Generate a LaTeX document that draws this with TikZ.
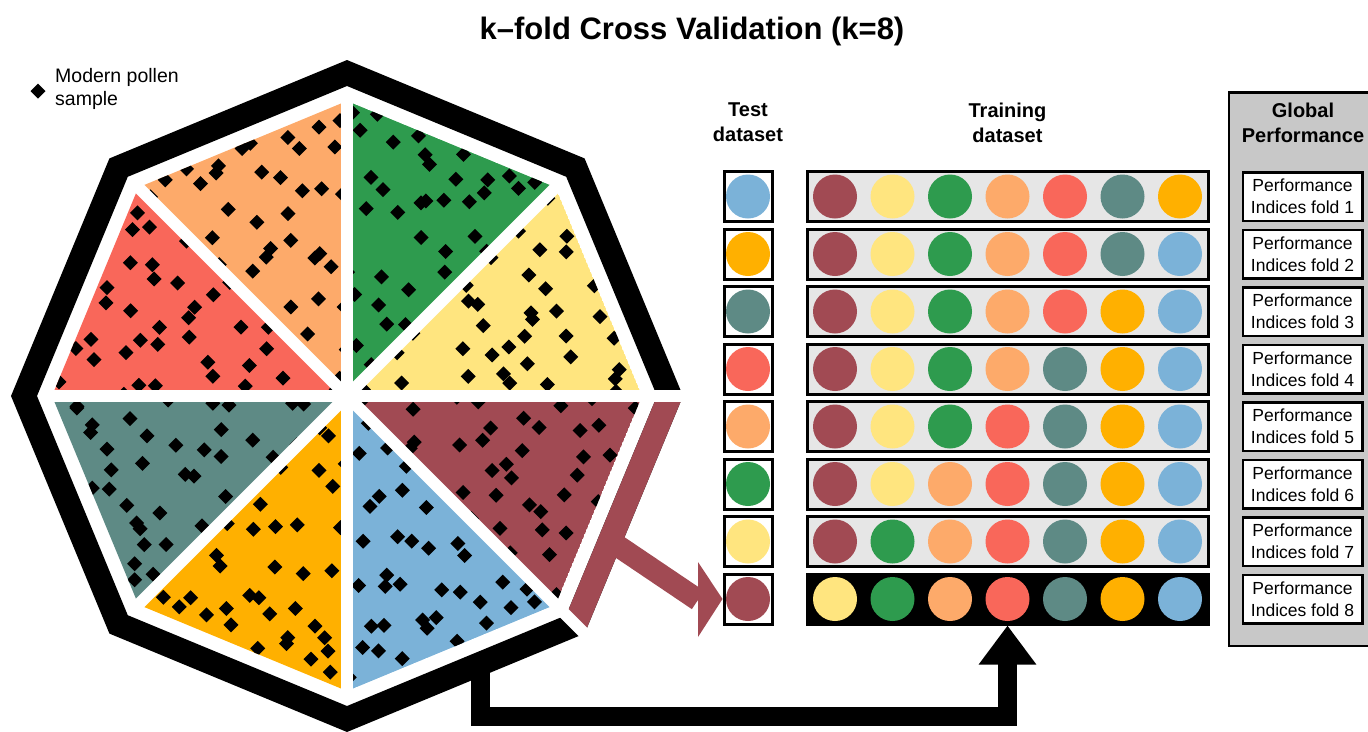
\documentclass[tikz,border=0pt]{standalone}
\usepackage{fontspec}
\setmainfont{Liberation Sans}
\usepackage{tikz}
\usetikzlibrary{arrows.meta}
\usetikzlibrary{calc}
\usetikzlibrary{positioning}
\definecolor{fold1}{HTML}{A14A53} % maroon
\definecolor{fold2}{HTML}{FFE57F} % yellow
\definecolor{fold3}{HTML}{2E9B4E} % green
\definecolor{fold4}{HTML}{FDAA6A} % light orange
\definecolor{fold5}{HTML}{F9675A} % red
\definecolor{fold6}{HTML}{5E8A85} % teal
\definecolor{fold7}{HTML}{FFB000} % amber
\definecolor{fold8}{HTML}{7BB2D8} % blue
\definecolor{trainfill}{HTML}{E6E6E6}
\definecolor{globalfill}{HTML}{C8C8C8}
\tikzset{
    testbox/.style={draw=black, line width=3pt, fill=white, inner sep=0pt,
        minimum width=48pt, minimum height=50pt},
    trainbox/.style={draw=black, line width=3pt, inner sep=0pt,
        minimum width=401pt, minimum height=50pt},
    perfbox/.style={draw=black, line width=2.5pt, fill=white, inner sep=0pt,
        minimum width=119.5pt, minimum height=48.5pt, align=center,
        font=\fontsize{17.5}{22}\selectfont},
    globalbox/.style={draw=black, line width=2.5pt, fill=globalfill, inner sep=0pt,
        minimum width=149.5pt, minimum height=553.5pt},
    foldball/.style={circle, minimum size=44pt, inner sep=0pt},
    header/.style={align=center, inner sep=0pt, anchor=north,
        font=\fontsize{20}{25}\selectfont\bfseries},
    separator/.style={white, line width=12pt},
    frameline/.style={line width=24pt},
    pollen/.style={fill=black},
    bigarrow/.style={line width=19pt, -{Triangle[length=39pt,width=55pt]}},
}

\begin{document}
\begin{tikzpicture}[x=1pt, y=-1pt]
	\useasboundingbox (0,0) rectangle (1368,731);
	\pgfmathsetseed{2718}
	%
	\node[font=\fontsize{31}{37}\selectfont\bfseries, anchor=base, inner sep=0pt]
		(title) at (692,39) {k–fold Cross Validation (k=8)};
	%
	\fill[pollen] (38,91) +(0,-7.5) -- +(7.5,0) -- +(0,7.5) -- +(-7.5,0) -- cycle;
	\node[anchor=north west, align=left, inner sep=0pt, font=\fontsize{19.5}{23}\selectfont]
		(legend) at (55,68) {Modern pollen\\sample};
	%
	\node[globalbox] (global) at (1303.5,369) {};
	\node[header] (testhead) at (748,103) {Test\\dataset};
	\node[header] (trainhead) at (1007.5,103) {Training\\dataset};
	\node[header] (globalhead) at (1303,103) {Global\\Performance};
	%
	\foreach \r in {1,...,8} {
		\pgfmathsetmacro\yy{196.5+57.5*(\r-1)}
		\pgfmathtruncatemacro\testk{9-\r}
		\ifnum\r=8 \def\tfill{black}\else\def\tfill{trainfill}\fi
		\node[testbox] (test\r) at (748,\yy) {};
		\node[foldball, fill=fold\testk] (testball\r) at (test\r) {};
		\node[trainbox, fill=\tfill] (train\r) at (1007.5,\yy) {};
		\foreach \j in {1,...,7} {
			\pgfmathtruncatemacro\trk{\j<\testk ? \j : \j+1}
			\node[foldball, fill=fold\trk] (ball\r-\j) at (835+57.5*\j-57.5,\yy) {};
		}
		\node[perfbox] (perf\r) at (1302.5,\yy) {Performance\\Indices fold \r};
	}
	%
	\coordinate (pieexit) at (480,664);
	\coordinate (bend) at (480,716);
	\draw[bigarrow] (pieexit) -- (bend) -| (train8.south);
	%
	\begin{scope}[shift={(347,396)}, yscale=-1]
		\foreach \ang/\col in {90/fold4, 135/fold5, 180/fold6, 225/fold7,
				270/fold8, 315/fold1, 0/fold2, 45/fold3} {
			\begin{scope}
				\clip (0,0) -- (\ang:295) -- (\ang+45:295) -- cycle;
				\fill[\col] (0,0) -- (\ang:295) -- (\ang+45:295) -- cycle;
				% one sample in each cell of a jittered grid
				\foreach \i in {0,...,7} {
					\pgfmathtruncatemacro\jmax{7-\i}
					\foreach \j in {0,...,\jmax} {
						\pgfmathsetmacro\rndu{rnd}
						\pgfmathsetmacro\rndv{rnd}
						\pgfmathsetmacro\flip{(\i+\j==7 && \rndu+\rndv>1) ? 1 : 0}
						\pgfmathsetmacro\pu{(\i+(\flip==1 ? 1-\rndu : \rndu))/8}
						\pgfmathsetmacro\pv{(\j+(\flip==1 ? 1-\rndv : \rndv))/8}
						\fill[pollen] ($\pu*(\ang:295)+\pv*(\ang+45:295)$)
							+(0,-7.5) -- +(7.5,0) -- +(0,7.5) -- +(-7.5,0) -- cycle;
					}
				}
			\end{scope}
		}
		\foreach \ang in {45,90,...,270}
			\draw[separator] (0,0) -- (\ang:305);
		% frame
		\draw[frameline] (0:323) \foreach \ang in {45,90,...,315} { -- (\ang:323) } -- cycle;
		% the test fold is lifted out of the frame
		\begin{scope}
			\clip (0,0) -- (0:420) -- (-45:420) -- cycle;
			\draw[frameline, fold1] (0:323) \foreach \ang in {45,90,...,315} { -- (\ang:323) } -- cycle;
		\end{scope}
		\draw[separator] (0,0) -- (0:350);
		\draw[separator] (0,0) -- (-45:350);
	\end{scope}
	%
	\coordinate (bandmid) at (612,542);
	\coordinate (headbase) at (698,600);
	\draw[line width=22pt, fold1] (bandmid) -- (headbase);
	\fill[fold1] ($(headbase)+(0,-38)$) -- (test8.west) -- ($(headbase)+(0,37)$) -- cycle;
\end{tikzpicture}
\end{document}
